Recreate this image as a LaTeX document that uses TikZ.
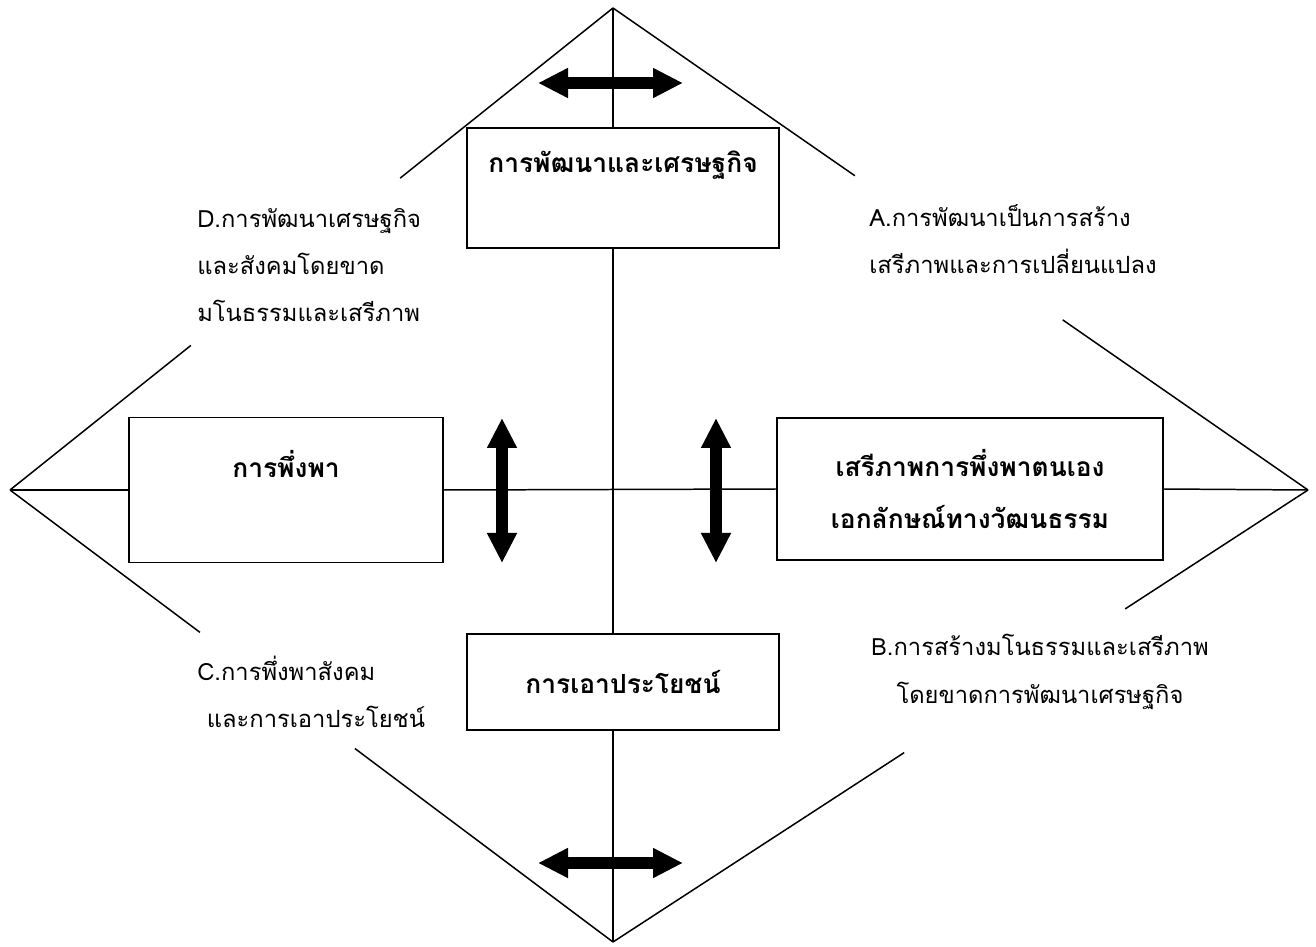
\documentclass[tikz,border=0pt]{standalone}
\usepackage{fontspec}
\usepackage{tikz}
\usetikzlibrary{arrows.meta,calc}
\newfontfamily\thaifont[Script=Thai]{Loma}
\newcommand{\boxfont}{\thaifont\bfseries\fontsize{15}{30}\selectfont}
\newcommand{\lblfont}{\thaifont\fontsize{13.5}{27}\selectfont}
\tikzset{%
	box/.style      = {draw, rectangle, line width=1.1pt, fill=white, align=center, font=\boxfont}, % Box
	lbl/.style      = {align=left, inner sep=0pt, font=\lblfont}, % Corner label
	rim/.style      = {line width=0.85pt}, % Diamond side
	dblarrow/.style = {line width=2.4mm, {Triangle[length=6mm,width=5.6mm]}-{Triangle[length=6mm,width=5.6mm]}},
}

\begin{document}
\begin{tikzpicture}[x=0.2mm,y=-0.2mm]
	\useasboundingbox (0,0) rectangle (1316,947);
	\coordinate (t) at (613,8);
	\coordinate (r) at (1308,490);
	\coordinate (b) at (613,942);
	\coordinate (l) at (10,490);
	
	\node [box, minimum width=62.4mm, minimum height=24mm] (dev) at (623,188) {การพัฒนาและเศรษฐกิจ\\ ~};
	\node [box, minimum width=62.8mm, minimum height=29mm] (dep) at (286,490) {การพึ่งพา\\ ~};
	\node [box, minimum width=77.2mm, minimum height=28.4mm] (free) at (970,489) {เสรีภาพการพึ่งพาตนเอง\\ เอกลักษณ์ทางวัฒนธรรม};
	\node [box, minimum width=62.4mm, minimum height=19.2mm] (use) at (623,682) {การเอาประโยชน์};
	
	\node [lbl, anchor=west] (la) at (869,239) {A.การพัฒนาเป็นการสร้าง\\ เสรีภาพและการเปลี่ยนแปลง};
	\node [lbl, align=center] (lb) at (1040,672) {B.การสร้างมโนธรรมและเสรีภาพ\\ โดยขาดการพัฒนาเศรษฐกิจ};
	\node [lbl, anchor=west] (lc) at (197,692) {C.การพึ่งพาสังคม\\ \hspace*{0.4em}และการเอาประโยชน์};
	\node [lbl, anchor=west] (ld) at (197,265) {D.การพัฒนาเศรษฐกิจ\\ และสังคมโดยขาด\\ มโนธรรมและเสรีภาพ};
	
	% axes
	\draw[rim] (t) -- (t |- dev.north);
	\draw[rim] (t |- dev.south) -- (t |- use.north);
	\draw[rim] (t |- use.south) -- (b);
	\draw[rim] (l) -- (dep.west);
	\draw[rim] (dep.east) -- (free.west);
	\draw[rim] (free.east) -- (r);
	
	% diamond
	\draw[rim] (t) -- ($(t)!0.353!(l)$);
	\draw[rim] ($(t)!0.70!(l)$) -- (l);
	\draw[rim] (t) -- ($(t)!0.348!(r)$);
	\draw[rim] ($(t)!0.647!(r)$) -- (r);
	\draw[rim] (l) -- ($(l)!0.315!(b)$);
	\draw[rim] ($(l)!0.572!(b)$) -- (b);
	\draw[rim] (r) -- ($(r)!0.263!(b)$);
	\draw[rim] ($(r)!0.581!(b)$) -- (b);
	
	\coordinate (ut1) at (538,83);  \coordinate (ut2) at (683,83);
	\coordinate (bt1) at (538,863); \coordinate (bt2) at (683,863);
	\coordinate (lt1) at (502,418); \coordinate (lt2) at (502,563);
	\coordinate (rt1) at (716,418); \coordinate (rt2) at (716,563);
	\draw[dblarrow] (ut1) -- (ut2);
	\draw[dblarrow] (bt1) -- (bt2);
	\draw[dblarrow] (lt1) -- (lt2);
	\draw[dblarrow] (rt1) -- (rt2);
\end{tikzpicture}
\end{document}
